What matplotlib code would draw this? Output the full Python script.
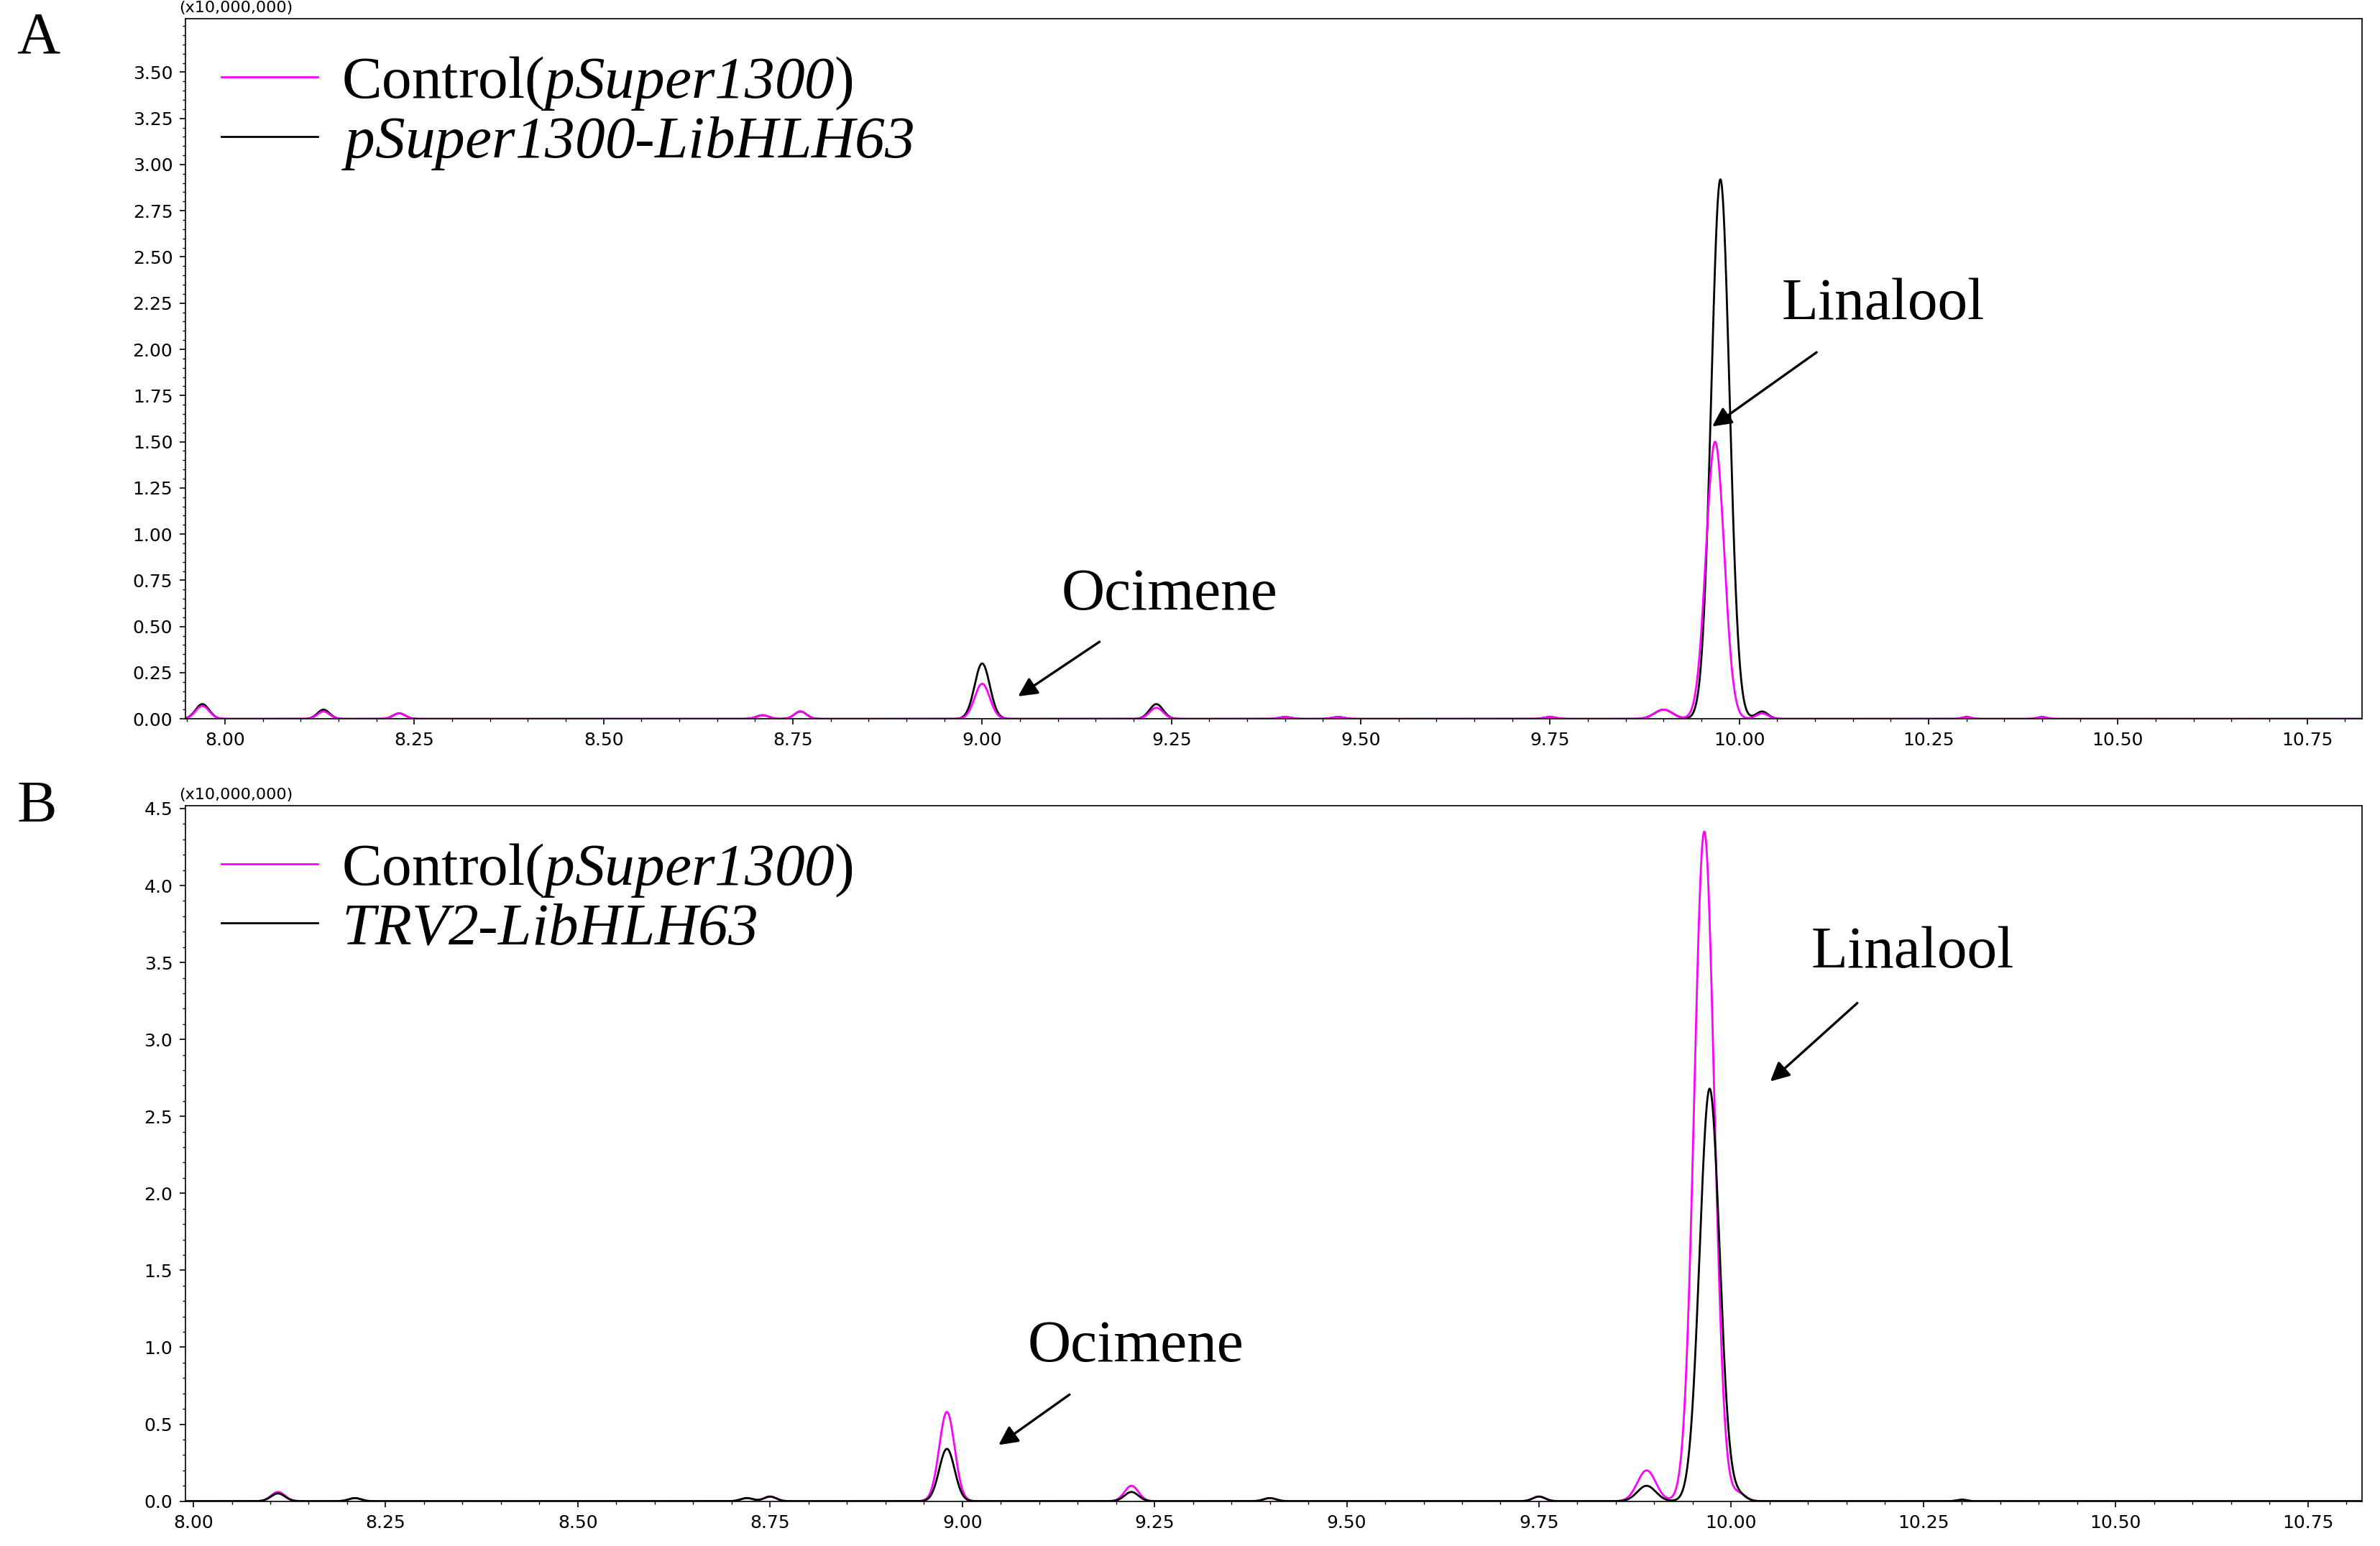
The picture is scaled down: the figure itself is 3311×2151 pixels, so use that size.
import numpy as np
import matplotlib.pyplot as plt

plt.rcParams['font.family'] = ['DejaVu Sans']
plt.rcParams['mathtext.fontset'] = 'custom'
plt.rcParams['mathtext.rm'] = 'Liberation Serif:italic'
plt.rcParams['mathtext.it'] = 'Liberation Serif:italic'
plt.rcParams['mathtext.default'] = 'it'

# peak tables (retention time, height x1e7, sigma)
a_ctrl_rt = [7.97, 8.13, 8.23, 8.71, 8.76, 9.00, 9.23, 9.40, 9.47, 9.75, 9.90, 9.968, 10.03, 10.30, 10.40, 10.84]
a_ctrl_h = [0.07, 0.04, 0.03, 0.02, 0.04, 0.19, 0.06, 0.01, 0.01, 0.01, 0.05, 1.50, 0.03, 0.01, 0.01, 0.01]
a_oe_rt = [7.97, 8.13, 8.23, 8.71, 8.76, 9.00, 9.23, 9.40, 9.47, 9.75, 9.90, 9.975, 10.03, 10.30, 10.40, 10.84]
a_oe_h = [0.08, 0.05, 0.03, 0.02, 0.04, 0.30, 0.08, 0.01, 0.01, 0.01, 0.05, 2.92, 0.04, 0.01, 0.01, 0.01]
a_sig = [0.009, 0.008, 0.008, 0.008, 0.008, 0.010, 0.009, 0.008, 0.008, 0.008, 0.012, 0.012, 0.008, 0.006, 0.006, 0.006]

b_ctrl_rt = [8.11, 8.21, 8.72, 8.75, 8.98, 9.22, 9.40, 9.75, 9.89, 9.965, 10.01, 10.30]
b_ctrl_h = [0.06, 0.02, 0.02, 0.03, 0.58, 0.10, 0.02, 0.03, 0.20, 4.35, 0.05, 0.01]
b_kd_rt = [8.11, 8.21, 8.72, 8.75, 8.98, 9.22, 9.40, 9.75, 9.89, 9.972, 10.01, 10.30]
b_kd_h = [0.05, 0.02, 0.02, 0.03, 0.34, 0.06, 0.02, 0.03, 0.10, 2.68, 0.04, 0.01]
b_sig = [0.009, 0.008, 0.008, 0.008, 0.010, 0.009, 0.008, 0.008, 0.012, 0.013, 0.009, 0.006]


def trace(t, rts, hs, sig):
    y = np.zeros_like(t)
    for r, h, s in zip(rts, hs, sig):
        y += h * np.exp(-0.5 * ((t - r) / s) ** 2)
    return y


fig = plt.figure(figsize=(16.56, 10.755), dpi=200)
axA = fig.add_axes([0.078, 0.535, 0.914, 0.453])
axB = fig.add_axes([0.078, 0.029, 0.914, 0.450])

tA = np.linspace(7.94, 10.83, 6000)
tB = np.linspace(7.98, 10.83, 6000)

serif = 'Liberation Serif'
leg_kw = dict(loc='upper left', frameon=False, prop={'family': serif, 'size': 30},
              handlelength=1.6, handletextpad=0.4, borderaxespad=0.2, labelspacing=0.05)
arr = dict(arrowstyle='-|>', color='black', lw=1.2, shrinkA=14, mutation_scale=20)

# panel A
axA.plot(tA, trace(tA, a_oe_rt, a_oe_h, a_sig), color='black', lw=1.0,
         label=r'$pSuper1300$-$LibHLH63$')
axA.plot(tA, trace(tA, a_ctrl_rt, a_ctrl_h, a_sig), color='magenta', lw=1.0,
         label=r'Control($pSuper1300$)')
axA.set_xlim(7.948, 10.822)
axA.set_ylim(0, 3.79)
axA.set_yticks(np.arange(0, 3.51, 0.25))
axA.set_yticklabels([f'{v:.2f}' for v in np.arange(0, 3.51, 0.25)])
axA.set_xticks(np.arange(8.0, 10.76, 0.25))
axA.set_xticklabels([f'{v:.2f}' for v in np.arange(8.0, 10.76, 0.25)])
h, l = axA.get_legend_handles_labels()
axA.legend(h[::-1], l[::-1], **leg_kw)
axA.annotate('Linalool', xy=(9.96, 1.57), xytext=(10.19, 2.24), ha='center', va='center',
             fontsize=30, family=serif, arrowprops=arr)
axA.annotate('Ocimene', xy=(9.043, 0.11), xytext=(9.247, 0.67), ha='center', va='center',
             fontsize=30, family=serif, arrowprops=arr)

# panel B
axB.plot(tB, trace(tB, b_ctrl_rt, b_ctrl_h, b_sig), color='magenta', lw=1.0,
         label=r'Control($pSuper1300$)')
axB.plot(tB, trace(tB, b_kd_rt, b_kd_h, b_sig), color='black', lw=1.0,
         label=r'$TRV2$-$LibHLH63$')
axB.set_xlim(7.99, 10.82)
axB.set_ylim(0, 4.52)
axB.set_yticks(np.arange(0, 4.51, 0.5))
axB.set_yticklabels([f'{v:.1f}' for v in np.arange(0, 4.51, 0.5)])
axB.set_xticks(np.arange(8.0, 10.76, 0.25))
axB.set_xticklabels([f'{v:.2f}' for v in np.arange(8.0, 10.76, 0.25)])
axB.legend(**leg_kw)
axB.annotate('Linalool', xy=(10.047, 2.71), xytext=(10.236, 3.56), ha='center', va='center',
             fontsize=30, family=serif, arrowprops=arr)
axB.annotate('Ocimene', xy=(9.043, 0.35), xytext=(9.226, 1.0), ha='center', va='center',
             fontsize=30, family=serif, arrowprops=arr)

for ax in (axA, axB):
    ax.tick_params(labelsize=9, length=3, width=0.6)
    ax.minorticks_on()
    ax.tick_params(which='minor', length=1.5, width=0.5)
    for s in ax.spines.values():
        s.set_linewidth(0.6)
    ax.text(-0.003, 1.005, '(x10,000,000)', transform=ax.transAxes, fontsize=8, va='bottom', ha='left')

fig.text(0.007, 0.975, 'A', family=serif, fontsize=30, va='center')
fig.text(0.007, 0.478, 'B', family=serif, fontsize=30, va='center')

fig.savefig('out.png', dpi=200)
